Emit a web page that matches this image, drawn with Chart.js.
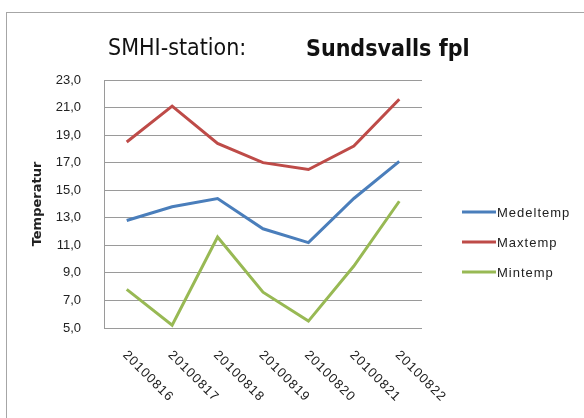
<!DOCTYPE html>
<html>
<head>
<meta charset="utf-8">
<script src="https://cdn.jsdelivr.net/npm/chart.js@4/dist/chart.umd.min.js"></script>
<style>
  html, body { margin: 0; padding: 0; background: #fff; overflow: hidden; }
  #wrap { position: relative; width: 584px; height: 418px; }
</style>
</head>
<body>
<div id="wrap"><canvas id="tempChart" width="584" height="418"></canvas></div>
<script>
// dates of the readings
const dates = ["20100816", "20100817", "20100818", "20100819", "20100820", "20100821", "20100822"];

// temperatures per day
const medeltemp = [12.8, 13.8, 14.4, 12.2, 11.2, 14.4, 17.1];
const maxtemp = [18.5, 21.1, 18.4, 17.0, 16.5, 18.2, 21.6];
const mintemp = [7.8, 5.2, 11.6, 7.6, 5.5, 9.5, 14.2];

// y axis tick labels (swedish decimal comma)
const yTickLabels = ["5,0", "7,0", "9,0", "11,0", "13,0", "15,0", "17,0", "19,0", "21,0", "23,0"];

const stationLabel = "SMHI-station:";
const stationName = "Sundsvalls fpl";

const gridGray = "#9a9a9a";

// frame around the whole chart + the two-part heading
const framePlugin = {
  id: "frame",
  beforeDraw(chart) {
    const ctx = chart.ctx;
    ctx.save();
    ctx.fillStyle = "#fff";
    ctx.fillRect(0, 0, chart.width, chart.height);
    ctx.strokeStyle = "#a6a6a6";
    ctx.lineWidth = 1;
    ctx.strokeRect(6.5, 12.5, 800, 800);
    ctx.restore();
  },
  afterDraw(chart) {
    const ctx = chart.ctx;
    ctx.save();
    ctx.fillStyle = "#111";
    ctx.textBaseline = "alphabetic";
    ctx.textAlign = "left";
    ctx.font = "23px 'DejaVu Sans Condensed', 'DejaVu Sans'";
    ctx.fillText(stationLabel, 108, 55);
    ctx.font = "bold 23px 'DejaVu Sans Condensed', 'DejaVu Sans'";
    ctx.fillText(stationName, 306, 56);
    ctx.restore();
  }
};

// slanted date labels under the plot, running down to the right
const dateLabelPlugin = {
  id: "dateLabels",
  afterDraw(chart) {
    const ctx = chart.ctx;
    const xScale = chart.scales.x;
    ctx.save();
    ctx.fillStyle = "#222";
    ctx.font = "13px 'Liberation Sans', Arial";
    ctx.letterSpacing = "1px";
    ctx.textAlign = "left";
    ctx.textBaseline = "middle";
    chart.data.labels.forEach((label, i) => {
      const x = xScale.getPixelForValue(i);
      ctx.save();
      ctx.translate(x - 2, chart.chartArea.bottom + 25);
      ctx.rotate(Math.PI / 4);
      ctx.fillText(label, 0, 0);
      ctx.restore();
    });
    ctx.restore();
  }
};

// legend on the right: short line sample + name
const legendPlugin = {
  id: "sideLegend",
  afterDraw(chart) {
    const ctx = chart.ctx;
    ctx.save();
    ctx.font = "13px 'Liberation Sans', Arial";
    ctx.letterSpacing = "1px";
    ctx.textAlign = "left";
    ctx.textBaseline = "middle";
    chart.data.datasets.forEach((ds, i) => {
      const y = 212 + i * 30;
      ctx.strokeStyle = ds.borderColor;
      ctx.lineWidth = 3;
      ctx.beginPath();
      ctx.moveTo(462, y);
      ctx.lineTo(496, y);
      ctx.stroke();
      ctx.fillStyle = "#222";
      ctx.fillText(ds.label, 497, y + 1);
    });
    ctx.restore();
  }
};

const ctx = document.getElementById("tempChart");
const tempChart = new Chart(ctx, {
  type: "line",
  data: {
    labels: dates,
    datasets: [
      { label: "Medeltemp", data: medeltemp, borderColor: "#4a7ebb", backgroundColor: "#4a7ebb" },
      { label: "Maxtemp", data: maxtemp, borderColor: "#be4b48", backgroundColor: "#be4b48" },
      { label: "Mintemp", data: mintemp, borderColor: "#98b954", backgroundColor: "#98b954" },
    ],
  },
  options: {
    responsive: false,
    animation: false,
    layout: {
      padding: { left: 0, top: 80, right: 162, bottom: 90 },
    },
    elements: {
      line: { borderWidth: 3, tension: 0 },
      point: { radius: 0, hoverRadius: 0 },
    },
    plugins: {
      legend: { display: false },
      title: { display: false },
      tooltip: { enabled: false },
    },
    scales: {
      x: {
        display: false,
        offset: true,
        ticks: { autoSkip: false },
      },
      y: {
        min: 5,
        max: 23,
        afterFit(scale) {
          scale.width = 104;
        },
        ticks: {
          stepSize: 2,
          padding: 23,
          color: "#222",
          font: { family: "'Liberation Sans', Arial", size: 13 },
          callback: (value, index) => yTickLabels[index],
        },
        grid: { color: gridGray, lineWidth: 1, drawTicks: false },
        border: { display: true, color: gridGray, width: 1 },
        title: {
          display: true,
          text: "Temperatur",
          color: "#222",
          font: { family: "'DejaVu Sans'", size: 13, weight: "bold" },
          padding: { top: 30, bottom: 0 },
        },
      },
    },
  },
  plugins: [framePlugin, dateLabelPlugin, legendPlugin],
});
</script>
</body>
</html>
